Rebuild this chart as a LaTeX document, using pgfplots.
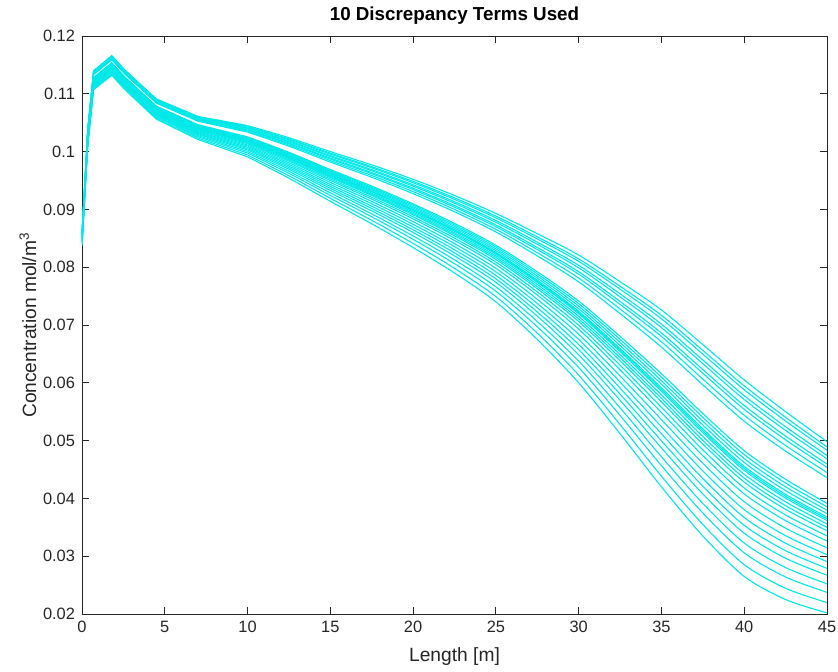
\documentclass[border=0pt]{standalone}
\usepackage{fontspec}
\setmainfont{Liberation Sans}
\usepackage{pgfplots}
\usepackage{pgfplotstable}
\pgfplotsset{compat=1.18}
\definecolor{axgray}{RGB}{38,38,38}
\definecolor{cyanline}{RGB}{0,232,232}
\pgfplotstableread{
x c1 c2 c3 c4 c5 c6 c7 c8 c9 c10 c11 c12 c13 c14 c15 c16 c17 c18 c19 c20 c21 c22 c23 c24 c25 c26 c27 c28 c29 c30
0 0.08580 0.08574 0.08570 0.08564 0.08560 0.08554 0.08550 0.08544 0.08538 0.08508 0.08504 0.08500 0.08496 0.08492 0.08490 0.08488 0.08484 0.08480 0.08476 0.08470 0.08464 0.08456 0.08448 0.08440 0.08432 0.08424 0.08414 0.08404 0.08392 0.08380
0.35 0.10400 0.10391 0.10385 0.10376 0.10370 0.10361 0.10355 0.10346 0.10337 0.10292 0.10286 0.10280 0.10274 0.10268 0.10265 0.10262 0.10256 0.10250 0.10244 0.10235 0.10226 0.10214 0.10202 0.10190 0.10178 0.10166 0.10151 0.10136 0.10118 0.10100
0.7 0.11400 0.11390 0.11384 0.11374 0.11367 0.11357 0.11351 0.11341 0.11331 0.11281 0.11275 0.11268 0.11261 0.11255 0.11252 0.11248 0.11242 0.11235 0.11228 0.11219 0.11209 0.11195 0.11182 0.11169 0.11156 0.11143 0.11126 0.11110 0.11090 0.11070
1.8 0.11660 0.11650 0.11643 0.11633 0.11626 0.11616 0.11609 0.11599 0.11589 0.11538 0.11531 0.11524 0.11517 0.11510 0.11507 0.11504 0.11497 0.11490 0.11483 0.11473 0.11463 0.11449 0.11436 0.11422 0.11408 0.11395 0.11378 0.11361 0.11340 0.11320
2.6 0.11410 0.11400 0.11393 0.11383 0.11376 0.11366 0.11359 0.11349 0.11339 0.11288 0.11281 0.11274 0.11267 0.11260 0.11257 0.11254 0.11247 0.11240 0.11233 0.11223 0.11213 0.11199 0.11186 0.11172 0.11158 0.11145 0.11128 0.11111 0.11090 0.11070
4.5 0.10910 0.10900 0.10893 0.10882 0.10875 0.10865 0.10858 0.10847 0.10837 0.10784 0.10777 0.10770 0.10763 0.10756 0.10753 0.10749 0.10742 0.10735 0.10728 0.10718 0.10707 0.10693 0.10679 0.10665 0.10651 0.10637 0.10620 0.10602 0.10581 0.10560
7 0.10610 0.10598 0.10590 0.10578 0.10570 0.10558 0.10550 0.10538 0.10526 0.10466 0.10458 0.10450 0.10442 0.10434 0.10430 0.10426 0.10418 0.10410 0.10402 0.10390 0.10378 0.10362 0.10346 0.10330 0.10314 0.10298 0.10278 0.10258 0.10234 0.10210
10 0.10450 0.10434 0.10423 0.10407 0.10396 0.10380 0.10369 0.10353 0.10337 0.10256 0.10245 0.10234 0.10223 0.10212 0.10207 0.10202 0.10191 0.10180 0.10169 0.10153 0.10137 0.10115 0.10094 0.10072 0.10050 0.10029 0.10002 0.09975 0.09942 0.09910
12.5 0.10240 0.10219 0.10205 0.10184 0.10170 0.10149 0.10135 0.10114 0.10093 0.09988 0.09974 0.09960 0.09946 0.09932 0.09925 0.09918 0.09904 0.09890 0.09876 0.09855 0.09834 0.09806 0.09778 0.09750 0.09722 0.09694 0.09659 0.09624 0.09582 0.09540
15 0.10000 0.09974 0.09957 0.09931 0.09914 0.09888 0.09871 0.09845 0.09819 0.09690 0.09673 0.09656 0.09639 0.09622 0.09613 0.09604 0.09587 0.09570 0.09553 0.09527 0.09501 0.09467 0.09432 0.09398 0.09364 0.09329 0.09286 0.09243 0.09192 0.09140
17.5 0.09770 0.09739 0.09719 0.09688 0.09668 0.09637 0.09617 0.09586 0.09556 0.09403 0.09382 0.09362 0.09342 0.09321 0.09311 0.09301 0.09280 0.09260 0.09240 0.09209 0.09178 0.09138 0.09097 0.09056 0.09015 0.08974 0.08923 0.08872 0.08811 0.08750
20 0.09520 0.09485 0.09461 0.09426 0.09402 0.09367 0.09343 0.09308 0.09272 0.09095 0.09072 0.09048 0.09024 0.09001 0.08989 0.08977 0.08954 0.08930 0.08906 0.08871 0.08836 0.08788 0.08741 0.08694 0.08647 0.08600 0.08541 0.08482 0.08411 0.08340
22.5 0.09240 0.09200 0.09173 0.09133 0.09106 0.09066 0.09039 0.08999 0.08959 0.08758 0.08731 0.08704 0.08677 0.08650 0.08637 0.08624 0.08597 0.08570 0.08543 0.08503 0.08463 0.08409 0.08356 0.08302 0.08248 0.08195 0.08128 0.08061 0.07980 0.07900
25 0.08930 0.08884 0.08854 0.08808 0.08777 0.08731 0.08701 0.08655 0.08609 0.08379 0.08349 0.08318 0.08287 0.08257 0.08242 0.08226 0.08196 0.08165 0.08134 0.08089 0.08043 0.07981 0.07920 0.07859 0.07798 0.07737 0.07660 0.07584 0.07492 0.07400
27.5 0.08580 0.08525 0.08489 0.08434 0.08397 0.08342 0.08306 0.08251 0.08196 0.07921 0.07885 0.07848 0.07811 0.07775 0.07757 0.07738 0.07702 0.07665 0.07628 0.07574 0.07519 0.07445 0.07372 0.07299 0.07226 0.07153 0.07061 0.06970 0.06860 0.06750
30 0.08210 0.08144 0.08100 0.08033 0.07989 0.07923 0.07879 0.07812 0.07746 0.07414 0.07370 0.07326 0.07282 0.07238 0.07216 0.07193 0.07149 0.07105 0.07061 0.06995 0.06928 0.06840 0.06751 0.06663 0.06575 0.06486 0.06376 0.06265 0.06133 0.06000
32.5 0.07750 0.07671 0.07619 0.07540 0.07487 0.07408 0.07356 0.07277 0.07198 0.06803 0.06751 0.06698 0.06645 0.06593 0.06567 0.06540 0.06488 0.06435 0.06382 0.06304 0.06225 0.06119 0.06014 0.05909 0.05804 0.05699 0.05567 0.05436 0.05278 0.05120
35 0.07260 0.07168 0.07107 0.07015 0.06954 0.06862 0.06801 0.06709 0.06617 0.06158 0.06097 0.06036 0.05975 0.05914 0.05883 0.05852 0.05791 0.05730 0.05669 0.05577 0.05485 0.05363 0.05240 0.05118 0.04996 0.04873 0.04720 0.04567 0.04384 0.04200
37.5 0.06660 0.06561 0.06495 0.06395 0.06329 0.06230 0.06164 0.06064 0.05965 0.05468 0.05402 0.05336 0.05270 0.05204 0.05171 0.05137 0.05071 0.05005 0.04939 0.04840 0.04740 0.04608 0.04475 0.04343 0.04211 0.04078 0.03913 0.03747 0.03549 0.03350
40 0.06050 0.05948 0.05880 0.05778 0.05710 0.05608 0.05540 0.05438 0.05336 0.04826 0.04758 0.04690 0.04622 0.04554 0.04520 0.04486 0.04418 0.04350 0.04282 0.04180 0.04078 0.03942 0.03806 0.03670 0.03534 0.03398 0.03228 0.03058 0.02854 0.02650
42.5 0.05500 0.05403 0.05338 0.05240 0.05175 0.05078 0.05013 0.04915 0.04818 0.04330 0.04265 0.04200 0.04135 0.04070 0.04038 0.04005 0.03940 0.03875 0.03810 0.03713 0.03615 0.03485 0.03355 0.03225 0.03095 0.02965 0.02803 0.02640 0.02445 0.02250
45 0.04980 0.04891 0.04832 0.04743 0.04684 0.04595 0.04536 0.04447 0.04358 0.03914 0.03855 0.03796 0.03737 0.03678 0.03648 0.03618 0.03559 0.03500 0.03441 0.03352 0.03263 0.03145 0.03026 0.02908 0.02790 0.02671 0.02523 0.02375 0.02198 0.02020
}\data
\begin{document}
\begin{tikzpicture}
\useasboundingbox (-41pt,-28.5pt) rectangle (378pt,307pt);
\begin{axis}[
  at={(0,0)}, anchor=south west,
  scale only axis, width=372.5pt, height=289pt,
  xmin=0, xmax=45, ymin=0.02, ymax=0.12,
  xtick={0,5,...,45},
  ytick={0.02,0.03,0.04,0.05,0.06,0.07,0.08,0.09,0.1,0.11,0.12},
  scaled y ticks=false,
  yticklabel style={/pgf/number format/fixed, /pgf/number format/precision=2},
  /pgf/number format/assume math mode=true,
  tick align=inside, major tick length=3.5pt,
  axis line style={axgray, line width=0.4pt},
  every tick/.style={axgray, line width=0.4pt},
  tick label style={font=\fontsize{8.2}{9.8}\selectfont, text=axgray},
  title={10 Discrepancy Terms Used},
  title style={at={(axis description cs:0.5,1.015)}, anchor=center, font=\fontsize{9.4}{11}\selectfont\bfseries, text=black},
  xlabel={Length [m]},
  ylabel={Concentration mol/m\textsuperscript{3}},
  xlabel style={at={(axis description cs:0.5,-0.0744)}, anchor=center, font=\fontsize{9.6}{11}\selectfont, text=axgray},
  ylabel style={at={(axis description cs:-0.0725,0.5)}, anchor=center, font=\fontsize{9.6}{11}\selectfont, text=axgray},
  cycle list={{cyanline, solid, line width=0.55pt, mark=none}},
]
\pgfplotsinvokeforeach{1,...,30}{
  \addplot[cyanline, solid, line width=0.55pt, mark=none, restrict x to domain=0:10] table[x=x, y=c#1] {\data};
  \addplot[cyanline, solid, line width=0.55pt, mark=none, smooth, restrict x to domain=10:45] table[x=x, y=c#1] {\data};
}
\end{axis}
\end{tikzpicture}
\end{document}
